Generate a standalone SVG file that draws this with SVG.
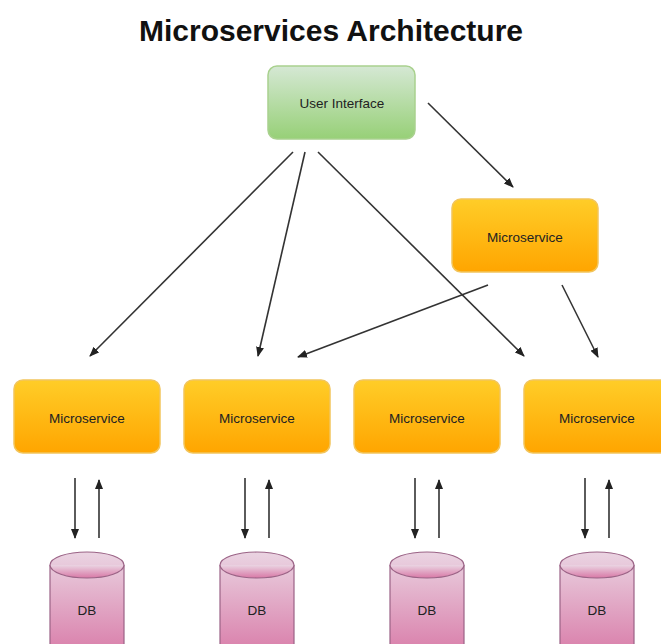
<svg xmlns="http://www.w3.org/2000/svg" width="661" height="644" viewBox="0 0 661 644">
<defs>
<linearGradient id="gGreen" x1="0" y1="0" x2="0" y2="1">
<stop offset="0" stop-color="#d5e8d4"/>
<stop offset="1" stop-color="#97d077"/>
</linearGradient>
<linearGradient id="gOrange" x1="0" y1="0" x2="0" y2="1">
<stop offset="0" stop-color="#ffcd28"/>
<stop offset="1" stop-color="#ffa500"/>
</linearGradient>
<linearGradient id="gPink" x1="0" y1="0" x2="0" y2="1">
<stop offset="0" stop-color="#ead4e2"/>
<stop offset="1" stop-color="#d878a6"/>
</linearGradient>
<marker id="arr" markerWidth="10" markerHeight="8" refX="9" refY="4" orient="auto" markerUnits="userSpaceOnUse">
<path d="M0,0 L10,4 L0,8 Z" fill="#222"/>
</marker>
</defs>
<style>
.title{font-family:"Liberation Sans",Arial,sans-serif;font-size:30px;font-weight:bold;fill:#111}
.lbl{font-family:"Liberation Sans",Arial,sans-serif;font-size:13.5px;fill:#222;text-anchor:middle;dominant-baseline:central}
.ui{fill:url(#gGreen);stroke:#a9d18e;stroke-width:1.5}
.ms{fill:url(#gOrange);stroke:#f2c55c;stroke-width:1.5}
.db{fill:url(#gPink);stroke:#9b6386;stroke-width:1.2}
.c{stroke:#333;stroke-width:1.6;fill:none;marker-end:url(#arr)}
</style>
<rect width="661" height="644" fill="#fff"/>
<text class="title" x="331" y="41" text-anchor="middle">Microservices Architecture</text>

<g id="connectors">
<line class="c" x1="428" y1="103" x2="513" y2="187"/>
<line class="c" x1="293" y1="152" x2="90" y2="356"/>
<line class="c" x1="305" y1="152" x2="258" y2="356"/>
<line class="c" x1="318" y1="152" x2="524" y2="356"/>
<line class="c" x1="488" y1="285" x2="298" y2="357"/>
<line class="c" x1="562" y1="285" x2="598" y2="357"/>
<line class="c" x1="75" y1="478" x2="75" y2="538"/>
<line class="c" x1="99" y1="538" x2="99" y2="480"/>
<line class="c" x1="245" y1="478" x2="245" y2="538"/>
<line class="c" x1="269" y1="538" x2="269" y2="480"/>
<line class="c" x1="415" y1="478" x2="415" y2="538"/>
<line class="c" x1="439" y1="538" x2="439" y2="480"/>
<line class="c" x1="585" y1="478" x2="585" y2="538"/>
<line class="c" x1="609" y1="538" x2="609" y2="480"/>
</g>

<g id="ui">
<rect class="ui" x="268" y="66" width="147" height="73" rx="9"/>
<text class="lbl" x="342" y="103">User Interface</text>
</g>
<g id="ms-top">
<rect class="ms" x="452" y="199" width="146" height="73" rx="9"/>
<text class="lbl" x="525" y="237">Microservice</text>
</g>
<g id="ms1">
<rect class="ms" x="14" y="380" width="146" height="73" rx="9"/>
<text class="lbl" x="87" y="418">Microservice</text>
</g>
<g id="ms2">
<rect class="ms" x="184" y="380" width="146" height="73" rx="9"/>
<text class="lbl" x="257" y="418">Microservice</text>
</g>
<g id="ms3">
<rect class="ms" x="354" y="380" width="146" height="73" rx="9"/>
<text class="lbl" x="427" y="418">Microservice</text>
</g>
<g id="ms4">
<rect class="ms" x="524" y="380" width="146" height="73" rx="9"/>
<text class="lbl" x="597" y="418">Microservice</text>
</g>

<g id="db1">
<path class="db" d="M50,565 A37,13 0 0 1 124,565 L124,660 L50,660 Z"/>
<path class="db" d="M50,565 A37,13 0 0 0 124,565" fill="none"/>
<text class="lbl" x="87" y="610">DB</text>
</g>
<g id="db2">
<path class="db" d="M220,565 A37,13 0 0 1 294,565 L294,660 L220,660 Z"/>
<path class="db" d="M220,565 A37,13 0 0 0 294,565" fill="none"/>
<text class="lbl" x="257" y="610">DB</text>
</g>
<g id="db3">
<path class="db" d="M390,565 A37,13 0 0 1 464,565 L464,660 L390,660 Z"/>
<path class="db" d="M390,565 A37,13 0 0 0 464,565" fill="none"/>
<text class="lbl" x="427" y="610">DB</text>
</g>
<g id="db4">
<path class="db" d="M560,565 A37,13 0 0 1 634,565 L634,660 L560,660 Z"/>
<path class="db" d="M560,565 A37,13 0 0 0 634,565" fill="none"/>
<text class="lbl" x="597" y="610">DB</text>
</g>
</svg>
